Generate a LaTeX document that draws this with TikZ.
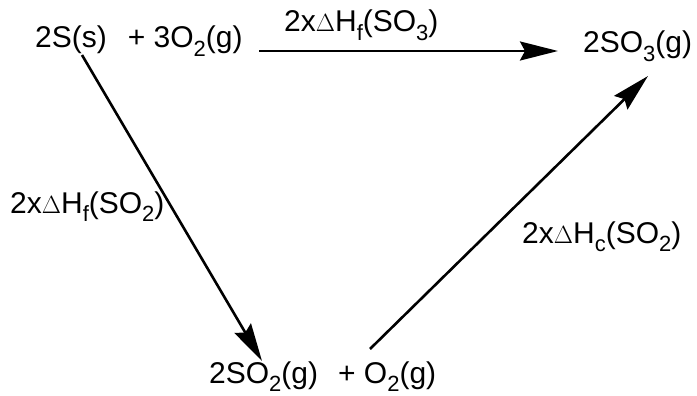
\documentclass[tikz,border=0pt]{standalone}
\usepackage{fontspec}
\setmainfont{Liberation Sans}
\usetikzlibrary{arrows.meta}
\newcommand\sbs[1]{\raisebox{-8.5pt}{\fontsize{22}{22}\selectfont #1}}
\begin{document}
\begin{tikzpicture}[x=1pt,y=-1pt,
  txt/.style={inner sep=0pt,anchor=base west,font=\fontsize{30}{36}\selectfont},
  arr/.style={line width=2.6pt,-{Stealth[length=38pt,width=19pt,inset=5pt]}}]
\useasboundingbox (0,0) rectangle (697,396);
\node[txt] (r) at (35,48) {2S(s)\hspace{21pt}+ 3O\sbs{2}(g)};
\node[txt] (p) at (583,53) {2SO\sbs{3}(g)};
\node[txt] (i) at (209,383) {2SO\sbs{2}(g)\hspace{20pt}+ O\sbs{2}(g)};
\node[txt] (lt) at (284,32) {2x$\Delta$H\sbs{f}(SO\sbs{3})};
\node[txt] (ll) at (10,213) {2x$\Delta$H\sbs{f}(SO\sbs{2})};
\node[txt] (lr) at (522,243) {2x$\Delta$H\sbs{c}(SO\sbs{2})};
\coordinate (a1) at (259,51);
\coordinate (a2) at (558,51);
\coordinate (b1) at (82,55);
\coordinate (b2) at (262,361);
\coordinate (c1) at (370,349);
\coordinate (c2) at (648,76);
\draw[arr] (a1) -- (a2);
\draw[arr] (b1) -- (b2);
\draw[arr] (c1) -- (c2);
\end{tikzpicture}
\end{document}
